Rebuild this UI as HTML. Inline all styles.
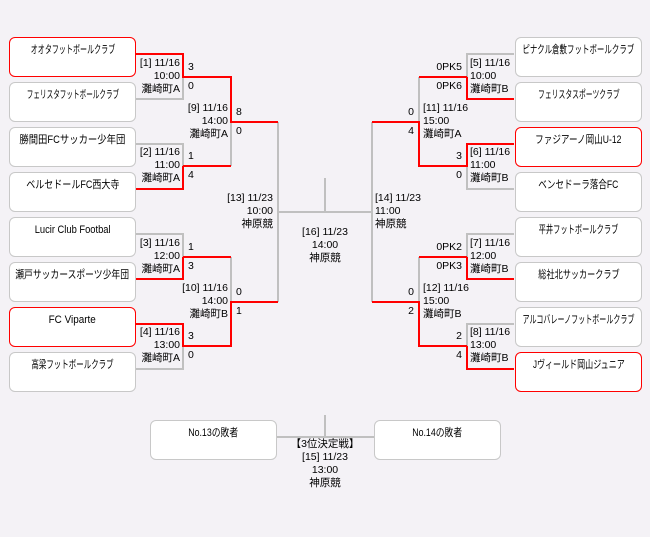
<!DOCTYPE html>
<html><head><meta charset="utf-8"><style>
body{margin:0;width:650px;height:537px;background:#f4f2f6;position:relative;overflow:hidden;font-family:"Liberation Sans","Noto Sans CJK JP",sans-serif;font-size:10.5px;color:#000}
.b{position:absolute;width:125px;background:#fff;border:1px solid #c8c8c8;border-radius:6px;text-align:center;line-height:13px;padding-top:6px;box-sizing:content-box;height:32px;white-space:nowrap;font-size:11px}
.b span{display:inline-block;transform-origin:center;margin:0 -80px}
.r{border-color:#ff0000}
.t{position:absolute;line-height:13px;white-space:nowrap}
.ra{text-align:right}
.c{text-align:center}
svg{position:absolute;left:0;top:0}
</style></head><body>
<svg width="650" height="537" shape-rendering="crispEdges">
<g stroke="#c0c0c0" stroke-width="2" fill="none">
<path d="M136 99H183V77M136 144H183V166M231 122V166M136 234H183V257M183 346V369H136M231 257V302M278 122V302M278 212H325V178"/>
<path d="M514 54H467V77M467 166V189H514M419 77V122M514 234H467V257M514 324H467V346M419 257V302M372 122V302M372 212H325"/>
<path d="M277 437H374M325 415V437"/>
</g>
<g stroke="#ff0000" stroke-width="2" fill="none">
<path d="M136 54H183V77H231V122H278M183 166H231M183 166V189H136M183 257V279H136M183 257H231M136 324H183V346H231V302H278"/>
<path d="M467 77V99H514M467 77H419M514 144H467V166H419V122H372M467 257V279H514M467 257H419M467 346V369H514M467 346H419V302H372"/>
</g>
</svg>
<div class="b r" style="left:9px;top:37px"><span style="transform:scaleX(.64)">オオタフットボールクラブ</span></div>
<div class="b" style="left:9px;top:82px"><span style="transform:scaleX(.6)">フェリスタフットボールクラブ</span></div>
<div class="b" style="left:9px;top:127px"><span style="transform:scaleX(.85)">勝間田FCサッカー少年団</span></div>
<div class="b" style="left:9px;top:172px"><span style="transform:scaleX(.82)">ベルセドールFC西大寺</span></div>
<div class="b" style="left:9px;top:217px"><span style="transform:scaleX(.85)">Lucir Club Footbal</span></div>
<div class="b" style="left:9px;top:262px"><span style="transform:scaleX(.8)">瀬戸サッカースポーツ少年団</span></div>
<div class="b r" style="left:9px;top:307px"><span style="transform:scaleX(.9)">FC Viparte</span></div>
<div class="b" style="left:9px;top:352px"><span style="transform:scaleX(.68)">高梁フットボールクラブ</span></div>
<div class="b" style="left:515px;top:37px"><span style="transform:scaleX(.68)">ピナクル倉敷フットボールクラブ</span></div>
<div class="b" style="left:515px;top:82px"><span style="transform:scaleX(.62)">フェリスタスポーツクラブ</span></div>
<div class="b r" style="left:515px;top:127px"><span style="transform:scaleX(.78)">ファジアーノ岡山U-12</span></div>
<div class="b" style="left:515px;top:172px"><span style="transform:scaleX(.78)">ベンセドーラ落合FC</span></div>
<div class="b" style="left:515px;top:217px"><span style="transform:scaleX(.66)">平井フットボールクラブ</span></div>
<div class="b" style="left:515px;top:262px"><span style="transform:scaleX(.74)">総社北サッカークラブ</span></div>
<div class="b" style="left:515px;top:307px"><span style="transform:scaleX(.64)">アルコバレーノフットボールクラブ</span></div>
<div class="b r" style="left:515px;top:352px"><span style="transform:scaleX(.73)">Jヴィールド岡山ジュニア</span></div>
<div class="b" style="left:150px;top:420px"><span style="transform:scaleX(.8)">No.13の敗者</span></div>
<div class="b" style="left:374px;top:420px"><span style="transform:scaleX(.8)">No.14の敗者</span></div>

<div class="t ra" style="right:470px;top:57px">[1] 11/16<br>10:00<br>灘崎町A</div>
<div class="t ra" style="right:470px;top:146px">[2] 11/16<br>11:00<br>灘崎町A</div>
<div class="t ra" style="right:470px;top:237px">[3] 11/16<br>12:00<br>灘崎町A</div>
<div class="t ra" style="right:470px;top:326px">[4] 11/16<br>13:00<br>灘崎町A</div>
<div class="t ra" style="right:422px;top:102px">[9] 11/16<br>14:00<br>灘崎町A</div>
<div class="t ra" style="right:422px;top:282px">[10] 11/16<br>14:00<br>灘崎町B</div>
<div class="t ra" style="right:377px;top:192px">[13] 11/23<br>10:00<br>神原競</div>
<div class="t" style="left:188px;top:61px">3</div><div class="t" style="left:188px;top:80px">0</div>
<div class="t" style="left:188px;top:150px">1</div><div class="t" style="left:188px;top:169px">4</div>
<div class="t" style="left:188px;top:241px">1</div><div class="t" style="left:188px;top:260px">3</div>
<div class="t" style="left:188px;top:330px">3</div><div class="t" style="left:188px;top:349px">0</div>
<div class="t" style="left:236px;top:106px">8</div><div class="t" style="left:236px;top:125px">0</div>
<div class="t" style="left:236px;top:286px">0</div><div class="t" style="left:236px;top:305px">1</div>

<div class="t" style="left:470px;top:57px">[5] 11/16<br>10:00<br>灘崎町B</div>
<div class="t" style="left:470px;top:146px">[6] 11/16<br>11:00<br>灘崎町B</div>
<div class="t" style="left:470px;top:237px">[7] 11/16<br>12:00<br>灘崎町B</div>
<div class="t" style="left:470px;top:326px">[8] 11/16<br>13:00<br>灘崎町B</div>
<div class="t" style="left:423px;top:102px">[11] 11/16<br>15:00<br>灘崎町A</div>
<div class="t" style="left:423px;top:282px">[12] 11/16<br>15:00<br>灘崎町B</div>
<div class="t" style="left:375px;top:192px">[14] 11/23<br>11:00<br>神原競</div>
<div class="t ra" style="right:188px;top:61px">0PK5</div><div class="t ra" style="right:188px;top:80px">0PK6</div>
<div class="t ra" style="right:188px;top:150px">3</div><div class="t ra" style="right:188px;top:169px">0</div>
<div class="t ra" style="right:188px;top:241px">0PK2</div><div class="t ra" style="right:188px;top:260px">0PK3</div>
<div class="t ra" style="right:188px;top:330px">2</div><div class="t ra" style="right:188px;top:349px">4</div>
<div class="t ra" style="right:236px;top:106px">0</div><div class="t ra" style="right:236px;top:125px">4</div>
<div class="t ra" style="right:236px;top:286px">0</div><div class="t ra" style="right:236px;top:305px">2</div>

<div class="t c" style="left:275px;width:100px;top:226px">[16] 11/23<br>14:00<br>神原競</div>
<div class="t c" style="left:275px;width:100px;top:438px">【3位決定戦】<br>[15] 11/23<br>13:00<br>神原競</div>
</body></html>
